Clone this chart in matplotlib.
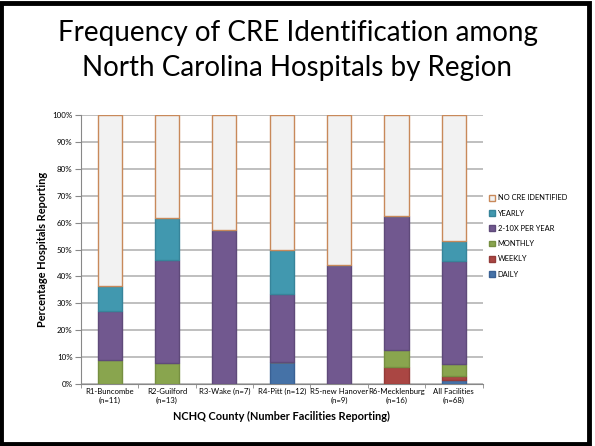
import matplotlib.pyplot as plt
import numpy as np
from matplotlib.patches import Rectangle

plt.rcParams['font.family'] = ['Lato', 'DejaVu Sans']

regions = ['R1-Buncombe\n(n=11)', 'R2-Guilford\n(n=13)', 'R3-Wake (n=7)',
           'R4-Pitt (n=12)', 'R5-new Hanover\n(n=9)', 'R6-Mecklenburg\n(n=16)',
           'All Facilities\n(n=68)']
daily = [0, 0, 0, 8.3, 0, 0, 1.5]
weekly = [0, 0, 0, 0, 0, 6.25, 1.5]
monthly = [9.1, 7.7, 0, 0, 0, 6.25, 4.4]
two_ten = [18.2, 38.5, 57.1, 25.0, 44.4, 50.0, 38.2]
yearly = [9.1, 15.4, 0, 16.7, 0, 0, 7.4]
no_cre = [63.6, 38.4, 42.9, 50.0, 55.6, 37.5, 47.0]

series = [
    ('DAILY', daily, '#4572A7', '#3A6194'),
    ('WEEKLY', weekly, '#AA4643', '#933B38'),
    ('MONTHLY', monthly, '#89A54E', '#768F41'),
    ('2-10X PER YEAR', two_ten, '#71588F', '#5F4A7A'),
    ('YEARLY', yearly, '#4198AF', '#37849A'),
    ('NO CRE IDENTIFIED', no_cre, '#F2F2F2', '#C8895A'),
]

fig = plt.figure(figsize=(5.95, 4.46), dpi=100)
ax = fig.add_axes([0.136, 0.139, 0.675, 0.603])

x = np.arange(len(regions))
bottom = np.zeros(len(regions))
handles = []
for name, vals, fc, ec in series:
    vals = np.array(vals)
    b = ax.bar(x, vals, width=0.42, bottom=bottom, color=fc, edgecolor=ec,
               linewidth=1.0, label=name, zorder=3)
    handles.append(b)
    bottom += vals

ax.set_xlim(-0.5, len(regions) - 0.5)
ax.set_ylim(0, 100)
ax.set_yticks(range(0, 101, 10))
ax.set_yticklabels([f'{v}%' for v in range(0, 101, 10)], fontsize=5.8)
ax.yaxis.grid(True, color='#BFBFBF', linewidth=1.4, zorder=0)
ax.set_xticks(x)
ax.set_xticklabels(regions, fontsize=5.6)
ax.set_xticks(np.arange(-0.5, len(regions)), minor=True)
ax.tick_params(axis='x', which='major', length=0, pad=3)
ax.tick_params(axis='x', which='minor', length=3, color='#888888')
ax.tick_params(axis='y', length=4, color='#888888', pad=2)
for s in ['top', 'right']:
    ax.spines[s].set_visible(False)
for s in ['left', 'bottom']:
    ax.spines[s].set_color('#888888')

ax.set_ylabel('Percentage Hospitals Reporting', fontsize=7.9, fontweight='bold',
              labelpad=3)
ax.set_xlabel('NCHQ County (Number Facilities Reporting)', fontsize=7.9,
              fontweight='bold', labelpad=5)

leg = ax.legend(handles[::-1], [s[0] for s in series][::-1], loc='center left',
                bbox_to_anchor=(1.0, 0.55), frameon=False, fontsize=5.4,
                handlelength=0.8, handleheight=0.8, labelspacing=1.1,
                handletextpad=0.3)

fig.text(0.5, 0.925, 'Frequency of CRE Identification among',
         ha='center', va='center', fontsize=20)
fig.text(0.5, 0.847, 'North Carolina Hospitals by Region',
         ha='center', va='center', fontsize=20)

fig.patches.append(Rectangle((0.002, 0.004), 0.988, 0.99, transform=fig.transFigure,
                             fill=False, edgecolor='black', linewidth=3.5))

plt.savefig('out.png', dpi=100)
